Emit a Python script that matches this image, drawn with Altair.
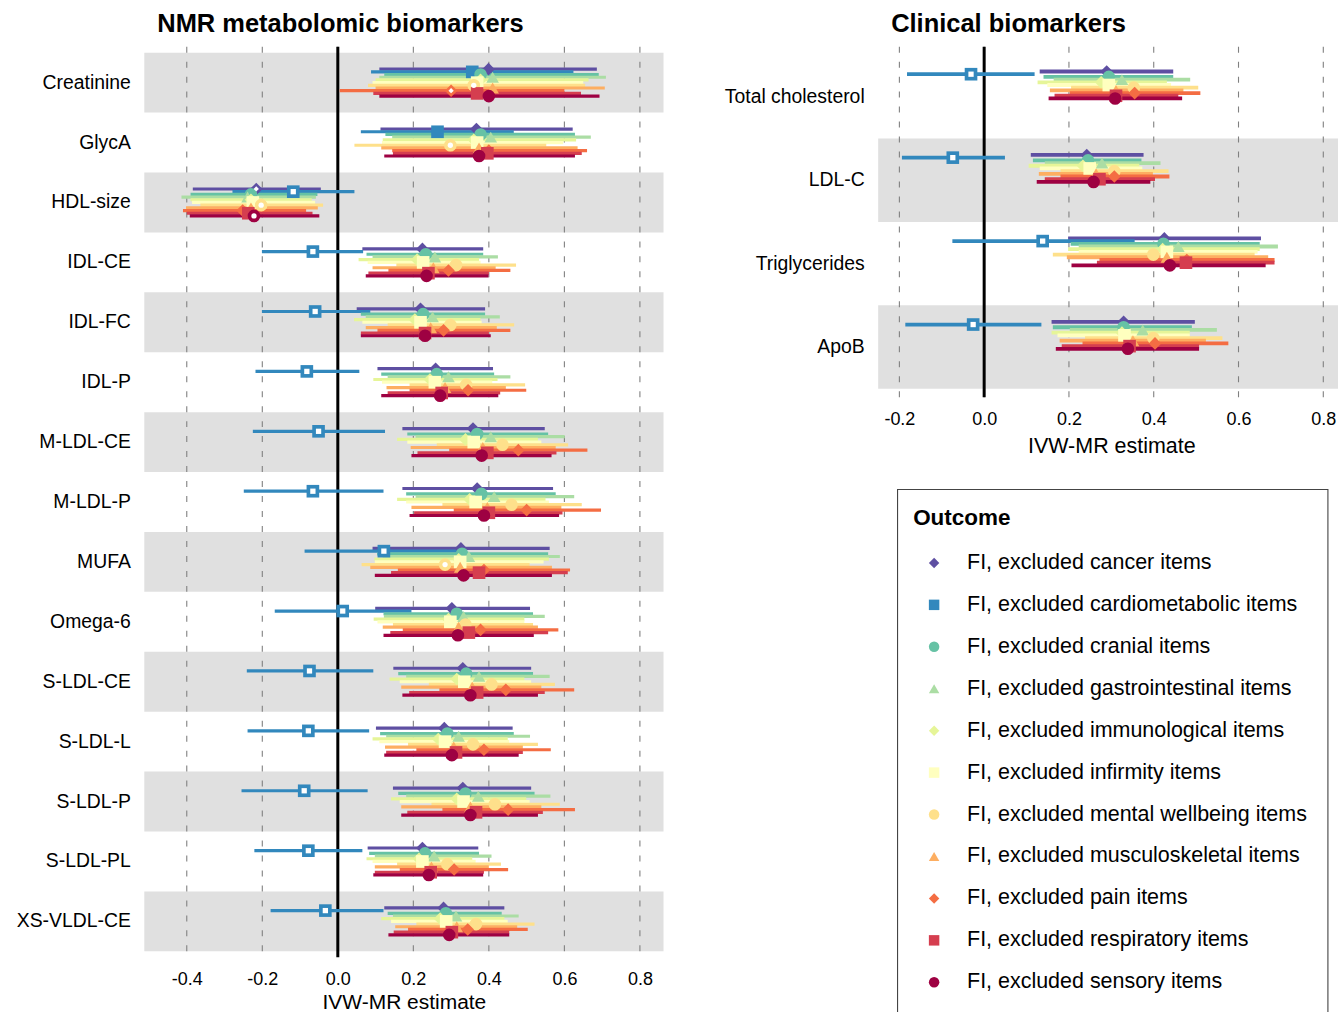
import altair as alt
import pandas as pd

# ---------------- data ----------------
OUTCOME_KEYS = ["cancer", "cardiometabolic", "cranial", "gastrointestinal", "immunological",
                "infirmity", "mental wellbeing", "musculoskeletal", "pain", "respiratory", "sensory"]
OUTCOMES = [f"FI, excluded {k} items" for k in OUTCOME_KEYS]
COLORS = ["#5E4FA2", "#3288BD", "#66C2A5", "#ABDDA4", "#E6F598", "#FFFFBF",
          "#FEE08B", "#FDAE61", "#F46D43", "#D53E4F", "#9E0142"]
SHAPES = ["diamond", "square", "circle", "triangle-up", "diamond", "square",
          "circle", "triangle-up", "diamond", "square", "circle"]
LEGEND_TITLE = "Outcome"

NMR_ROWS = ["Creatinine", "GlycA", "HDL-size", "IDL-CE", "IDL-FC", "IDL-P", "M-LDL-CE",
            "M-LDL-P", "MUFA", "Omega-6", "S-LDL-CE", "S-LDL-L", "S-LDL-P", "S-LDL-PL", "XS-VLDL-CE"]

NMR_EST = [
    [0.399, 0.356, 0.378, 0.410, 0.378, 0.369, 0.360, 0.410, 0.300, 0.369, 0.400],
    [0.367, 0.264, 0.378, 0.405, 0.360, 0.369, 0.298, 0.374, 0.400, 0.396, 0.374],
    [-0.216, -0.118, -0.230, -0.239, -0.230, -0.225, -0.203, -0.230, -0.252, -0.237, -0.222],
    [0.224, -0.066, 0.233, 0.257, 0.210, 0.226, 0.313, 0.253, 0.293, 0.240, 0.235],
    [0.219, -0.060, 0.226, 0.251, 0.204, 0.219, 0.298, 0.246, 0.280, 0.231, 0.231],
    [0.259, -0.082, 0.262, 0.293, 0.244, 0.257, 0.340, 0.284, 0.345, 0.275, 0.271],
    [0.358, -0.051, 0.369, 0.405, 0.338, 0.360, 0.436, 0.384, 0.478, 0.396, 0.381],
    [0.369, -0.066, 0.380, 0.414, 0.349, 0.365, 0.460, 0.396, 0.500, 0.400, 0.387],
    [0.326, 0.122, 0.329, 0.347, 0.320, 0.324, 0.284, 0.324, 0.387, 0.374, 0.333],
    [0.302, 0.013, 0.315, 0.333, 0.293, 0.298, 0.338, 0.320, 0.378, 0.347, 0.318],
    [0.331, -0.075, 0.340, 0.374, 0.315, 0.335, 0.407, 0.356, 0.445, 0.369, 0.351],
    [0.282, -0.078, 0.290, 0.320, 0.266, 0.284, 0.358, 0.307, 0.387, 0.313, 0.302],
    [0.331, -0.089, 0.338, 0.372, 0.315, 0.333, 0.416, 0.351, 0.451, 0.366, 0.351],
    [0.224, -0.078, 0.231, 0.255, 0.215, 0.224, 0.290, 0.248, 0.308, 0.246, 0.241],
    [0.280, -0.033, 0.286, 0.313, 0.271, 0.287, 0.366, 0.315, 0.344, 0.302, 0.295],
]
NMR_LO = [
    [0.110, 0.088, 0.123, 0.110, 0.100, 0.092, 0.080, 0.100, 0.005, 0.094, 0.110],
    [0.113, 0.061, 0.126, 0.144, 0.119, 0.117, 0.044, 0.115, 0.144, 0.146, 0.123],
    [-0.384, -0.279, -0.390, -0.414, -0.390, -0.386, -0.364, -0.402, -0.410, -0.400, -0.392],
    [0.065, -0.201, 0.076, 0.092, 0.055, 0.079, 0.155, 0.092, 0.134, 0.081, 0.074],
    [0.050, -0.201, 0.061, 0.074, 0.043, 0.065, 0.132, 0.074, 0.105, 0.061, 0.061],
    [0.105, -0.218, 0.115, 0.132, 0.094, 0.117, 0.190, 0.129, 0.190, 0.132, 0.115],
    [0.171, -0.225, 0.184, 0.206, 0.157, 0.184, 0.262, 0.193, 0.295, 0.211, 0.195],
    [0.171, -0.249, 0.181, 0.206, 0.157, 0.181, 0.277, 0.195, 0.307, 0.202, 0.190],
    [0.092, -0.088, 0.104, 0.119, 0.097, 0.098, 0.063, 0.086, 0.159, 0.141, 0.098],
    [0.099, -0.167, 0.121, 0.122, 0.095, 0.105, 0.146, 0.119, 0.172, 0.139, 0.121],
    [0.147, -0.241, 0.160, 0.181, 0.137, 0.164, 0.241, 0.168, 0.269, 0.189, 0.171],
    [0.101, -0.239, 0.112, 0.128, 0.092, 0.110, 0.186, 0.125, 0.208, 0.128, 0.123],
    [0.146, -0.255, 0.160, 0.181, 0.141, 0.164, 0.248, 0.168, 0.277, 0.184, 0.168],
    [0.079, -0.221, 0.083, 0.098, 0.076, 0.092, 0.157, 0.098, 0.164, 0.098, 0.094],
    [0.123, -0.178, 0.132, 0.146, 0.115, 0.141, 0.208, 0.152, 0.186, 0.148, 0.134],
]
NMR_HI = [
    [0.686, 0.624, 0.691, 0.710, 0.664, 0.650, 0.655, 0.707, 0.600, 0.644, 0.693],
    [0.622, 0.466, 0.628, 0.670, 0.631, 0.597, 0.552, 0.635, 0.660, 0.646, 0.628],
    [-0.045, 0.044, -0.054, -0.058, -0.069, -0.060, -0.039, -0.053, -0.084, -0.067, -0.049],
    [0.385, 0.067, 0.385, 0.424, 0.374, 0.378, 0.472, 0.418, 0.457, 0.400, 0.399],
    [0.390, 0.086, 0.390, 0.429, 0.378, 0.381, 0.467, 0.421, 0.457, 0.400, 0.405],
    [0.411, 0.057, 0.414, 0.457, 0.423, 0.409, 0.496, 0.445, 0.499, 0.430, 0.425],
    [0.548, 0.125, 0.557, 0.601, 0.530, 0.539, 0.610, 0.577, 0.661, 0.579, 0.566],
    [0.570, 0.121, 0.577, 0.626, 0.550, 0.559, 0.646, 0.592, 0.697, 0.595, 0.586],
    [0.561, 0.332, 0.557, 0.588, 0.559, 0.545, 0.508, 0.567, 0.615, 0.609, 0.567],
    [0.509, 0.195, 0.517, 0.548, 0.494, 0.494, 0.517, 0.530, 0.584, 0.557, 0.519],
    [0.512, 0.094, 0.517, 0.561, 0.494, 0.512, 0.575, 0.539, 0.626, 0.548, 0.530],
    [0.463, 0.083, 0.466, 0.509, 0.450, 0.454, 0.530, 0.490, 0.564, 0.490, 0.479],
    [0.512, 0.079, 0.521, 0.563, 0.499, 0.508, 0.588, 0.539, 0.628, 0.543, 0.530],
    [0.372, 0.065, 0.374, 0.407, 0.356, 0.365, 0.432, 0.400, 0.451, 0.387, 0.385],
    [0.441, 0.121, 0.434, 0.479, 0.441, 0.450, 0.521, 0.475, 0.503, 0.454, 0.454],
]
# outcomes drawn as open symbols, per row
NMR_OPEN = [
    ["mental wellbeing", "pain"],
    ["mental wellbeing"],
    ["cancer", "cardiometabolic", "mental wellbeing", "sensory"],
    ["cardiometabolic"], ["cardiometabolic"], ["cardiometabolic"], ["cardiometabolic"],
    ["cardiometabolic"],
    ["cardiometabolic", "mental wellbeing"],
    ["cardiometabolic"], ["cardiometabolic"], ["cardiometabolic"], ["cardiometabolic"],
    ["cardiometabolic"], ["cardiometabolic"],
]

CLIN_ROWS = ["Total cholesterol", "LDL-C", "Triglycerides", "ApoB"]
CLIN_EST = [
    [0.289, -0.031, 0.294, 0.325, 0.276, 0.294, 0.353, 0.311, 0.355, 0.311, 0.309],
    [0.242, -0.074, 0.245, 0.278, 0.233, 0.249, 0.307, 0.264, 0.307, 0.272, 0.258],
    [0.425, 0.138, 0.423, 0.458, 0.421, 0.431, 0.399, 0.431, 0.478, 0.476, 0.438],
    [0.329, -0.026, 0.329, 0.374, 0.325, 0.331, 0.399, 0.351, 0.403, 0.343, 0.339],
]
CLIN_LO = [
    [0.131, -0.182, 0.140, 0.164, 0.126, 0.149, 0.205, 0.155, 0.202, 0.166, 0.152],
    [0.110, -0.194, 0.115, 0.143, 0.105, 0.131, 0.180, 0.129, 0.180, 0.143, 0.124],
    [0.198, -0.075, 0.204, 0.223, 0.198, 0.223, 0.162, 0.195, 0.272, 0.266, 0.206],
    [0.159, -0.186, 0.162, 0.202, 0.159, 0.173, 0.238, 0.178, 0.232, 0.183, 0.169],
]
CLIN_HI = [
    [0.446, 0.119, 0.446, 0.486, 0.431, 0.441, 0.505, 0.470, 0.510, 0.458, 0.467],
    [0.376, 0.049, 0.371, 0.416, 0.366, 0.373, 0.435, 0.398, 0.437, 0.403, 0.392],
    [0.653, 0.355, 0.650, 0.693, 0.650, 0.645, 0.638, 0.670, 0.685, 0.685, 0.664],
    [0.497, 0.135, 0.490, 0.549, 0.485, 0.485, 0.562, 0.523, 0.576, 0.507, 0.507],
]
CLIN_OPEN = [["cardiometabolic"], ["cardiometabolic"], ["cardiometabolic"], ["cardiometabolic"]]

NMR_TICKS = [-0.4, -0.2, 0.0, 0.2, 0.4, 0.6, 0.8]
CLIN_TICKS = [-0.2, 0.0, 0.2, 0.4, 0.6, 0.8]

FONT = "Liberation Sans"
PAD_OUTER = 0.1      # y band outer padding (fraction of a row)
DODGE = 0.45         # fraction of a row used by the dodged outcomes


def make_frame(rows, est, lo, hi, open_):
    recs = []
    for i, r in enumerate(rows):
        for j, k in enumerate(OUTCOME_KEYS):
            recs.append(dict(row=r, outcome=OUTCOMES[j], est=est[i][j], lo=lo[i][j],
                             hi=hi[i][j], hollow=k in open_[i]))
    return pd.DataFrame(recs)


def band_frame(rows):
    n = len(rows)
    return pd.DataFrame({"row": [r for i, r in enumerate(rows) if (n - 1 - i) % 2 == 0]})


color_scale = alt.Scale(domain=OUTCOMES, range=COLORS)
shape_scale = alt.Scale(domain=OUTCOMES, range=SHAPES)


def panel(rows, est, lo, hi, open_, domain, ticks, width, height, title, line_w,
          lab_pad, title_pad, title_size):
    df = make_frame(rows, est, lo, hi, open_)
    bands = band_frame(rows)
    ticks_df = pd.DataFrame({"v": ticks})
    zero_df = pd.DataFrame({"v": [0.0]})

    step = height / (len(rows) + 2 * PAD_OUTER)
    n = len(OUTCOMES)
    sub = DODGE * step / (n - 1)
    half = DODGE * step / 2 + sub / 2
    off_range = [step / 2 - half, step / 2 + half]

    yscale = alt.Scale(domain=rows, paddingOuter=PAD_OUTER, paddingInner=0)
    yaxis = alt.Axis(title=None, labelFontSize=19.4, labelColor="black", labelPadding=14,
                     ticks=False, tickSize=0, domain=False, grid=False, labelFont=FONT,
                     labelLimit=300)
    y = alt.Y("row:N", sort=rows, scale=yscale, axis=yaxis)
    yoff = alt.YOffset("outcome:N", sort=OUTCOMES,
                       scale=alt.Scale(domain=OUTCOMES, range=off_range,
                                       paddingOuter=0, paddingInner=0))

    xscale = alt.Scale(domain=domain, nice=False, zero=False)
    xaxis = alt.Axis(values=ticks, title="IVW-MR estimate", grid=False, ticks=False, tickSize=0,
                     domain=False, labelFontSize=18, labelColor="black", labelFont=FONT,
                     labelExpr="replace(format(datum.value, '.1f'), '\u2212', '-')",
                     labelPadding=lab_pad, titleFontSize=title_size, titleFontWeight="normal",
                     titleColor="black", titleFont=FONT, titlePadding=title_pad)

    band = alt.Chart(bands).mark_rect(color="#e0e0e0").encode(
        y=y, x=alt.value(0), x2=alt.value("width"))
    grid = alt.Chart(ticks_df).mark_rule(color="#808080", strokeDash=[6, 9], strokeWidth=1.1).encode(
        x=alt.X("v:Q", scale=xscale, axis=xaxis))
    zero = alt.Chart(zero_df).mark_rule(color="black", strokeWidth=3).encode(x="v:Q")
    lines = alt.Chart(df).mark_rule(strokeWidth=line_w).encode(
        x="lo:Q", x2="hi:Q", y=y, yOffset=yoff,
        stroke=alt.Stroke("outcome:N", sort=OUTCOMES, scale=color_scale, legend=None))
    pts = alt.Chart(df).mark_point(filled=True, size=160, opacity=1).encode(
        x="est:Q", y=y, yOffset=yoff,
        color=alt.Color("outcome:N", sort=OUTCOMES, scale=color_scale, legend=None),
        shape=alt.Shape("outcome:N", sort=OUTCOMES, scale=shape_scale, legend=None))
    holes = alt.Chart(df).transform_filter("datum.hollow").mark_point(
        filled=True, size=28, opacity=1, color="white").encode(
        x="est:Q", y=y, yOffset=yoff,
        shape=alt.Shape("outcome:N", sort=OUTCOMES, scale=shape_scale, legend=None))

    return alt.layer(band, grid, zero, lines, pts, holes).properties(
        width=width, height=height,
        title=alt.TitleParams(title, anchor="start", frame="group", dx=13, fontSize=25.5,
                              fontWeight="bold", color="black", font=FONT, offset=8))


def legend_view():
    rows = [LEGEND_TITLE] + OUTCOMES
    ly = alt.Scale(domain=rows, range=[11, 11 + 42 * len(rows)], paddingInner=0, paddingOuter=0)
    items = pd.DataFrame({"outcome": OUTCOMES})
    head = pd.DataFrame({"outcome": [LEGEND_TITLE]})
    yl = alt.Y("outcome:N", scale=ly, axis=None, sort=rows)
    title_t = alt.Chart(head).mark_text(align="left", baseline="middle", fontSize=22.5, dy=-3,
                                        fontWeight="bold", font=FONT, color="black").encode(
        x=alt.value(16), y=yl, text="outcome:N")
    sym = alt.Chart(items).mark_point(filled=True, size=110, opacity=1).encode(
        x=alt.value(37), y=yl,
        color=alt.Color("outcome:N", scale=color_scale, legend=None),
        shape=alt.Shape("outcome:N", scale=shape_scale, legend=None))
    labs = alt.Chart(items).mark_text(align="left", baseline="middle", fontSize=21.5,
                                      font=FONT, color="black").encode(
        x=alt.value(70), y=yl, text="outcome:N")
    return alt.layer(title_t, sym, labs).properties(
        width=431, height=545,
        view=alt.ViewBackground(stroke="#444444", strokeWidth=1.1, fill="white"))


left = panel(NMR_ROWS, NMR_EST, NMR_LO, NMR_HI, NMR_OPEN, [-0.5125, 0.8625], NMR_TICKS,
             520, 912, "NMR metabolomic biomarkers", 3.2, 13, 3, 21)
right = panel(CLIN_ROWS, CLIN_EST, CLIN_LO, CLIN_HI, CLIN_OPEN, [-0.25, 0.85], CLIN_TICKS,
              467, 351, "Clinical biomarkers", 3.8, 13, 7, 21.5)

spacer = alt.Chart(pd.DataFrame({"a": [0]})).mark_point(opacity=0).properties(width=1, height=1)
legend_row = alt.hconcat(spacer, legend_view(), spacing=18, bounds="flush")
col2 = alt.vconcat(right, legend_row, spacing=92, bounds="flush")

# negative right/bottom padding crops the figure at the canvas edge, as in the original
chart = alt.hconcat(left, col2, spacing=215, bounds="flush").properties(
    padding={"left": 15.5, "top": 11, "right": -6.5, "bottom": -23}
).configure(font=FONT).configure_view(stroke=None)

chart.save("out.html", embed_options={"renderer": "svg", "actions": False})
